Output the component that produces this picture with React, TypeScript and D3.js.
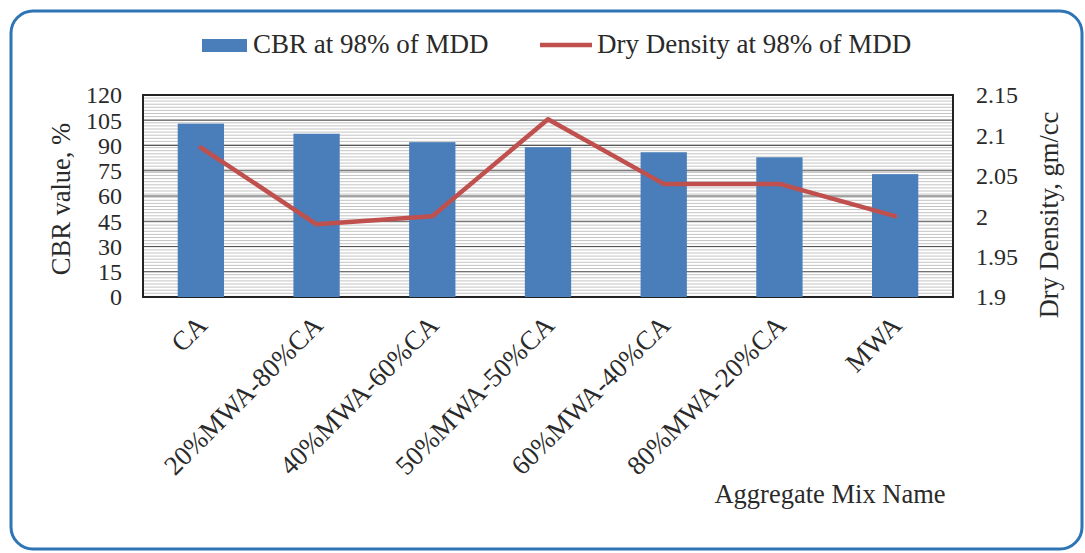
import React from "react";
import * as d3 from "d3";

const categories = ["CA", "20%MWA-80%CA", "40%MWA-60%CA", "50%MWA-50%CA", "60%MWA-40%CA", "80%MWA-20%CA", "MWA"];
const cbrValues = [103, 97, 92, 89, 86, 83, 73];
const dryDensity = [2.085, 1.99, 2.0, 2.12, 2.04, 2.04, 2.0];
const leftTicks = [0, 15, 30, 45, 60, 75, 90, 105, 120];
const rightTicks = [1.9, 1.95, 2, 2.05, 2.1, 2.15];

const W = 1085;
const H = 553;
const M = { left: 143, right: 953, top: 95, bottom: 297 };
const FONT = "'Liberation Serif', 'Times New Roman', serif";

export default function App() {
  const yL = d3.scaleLinear().domain([0, 120]).range([M.bottom, M.top]);
  const yR = d3.scaleLinear().domain([1.9, 2.15]).range([M.bottom, M.top]);
  const x = d3.scalePoint<string>().domain(categories).range([M.left, M.right]).padding(0.5);
  const band = x.step();
  const cx = (c: string) => x(c) as number;
  const barW = band / 2.5;

  const line = d3
    .line<number>()
    .x((_, i) => cx(categories[i]))
    .y((d) => yR(d));

  const hatch: number[] = d3.range(M.top + 3, M.bottom, 3.1);

  return (
    <svg width={W} height={H} style={{ position: "absolute", left: 0, top: 0, background: "#fff" }} fontFamily={FONT}>
      <rect x={11} y={11} width={1071} height={538} rx={22} ry={22} fill="#fff" stroke="#2E75B6" strokeWidth={3} />
      <rect x={M.left} y={M.top} width={M.right - M.left} height={M.bottom - M.top} fill="#fff" />
      {hatch.map((yy, i) => (
        <line key={"h" + i} x1={M.left} x2={M.right} y1={yy} y2={yy} stroke="#c4c4c4" strokeWidth={1} />
      ))}
      {leftTicks.map((t) => (
        <line key={"g" + t} x1={M.left} x2={M.right} y1={yL(t)} y2={yL(t)} stroke="#555" strokeWidth={1.2} />
      ))}
      <rect x={M.left} y={M.top} width={M.right - M.left} height={M.bottom - M.top} fill="none" stroke="#222" strokeWidth={2} />
      {categories.map((c, i) => (
        <rect key={"b" + c} x={cx(c) - barW / 2} y={yL(cbrValues[i])} width={barW} height={yL(0) - yL(cbrValues[i])} fill="#4A7EBB" />
      ))}
      <path d={line(dryDensity) || ""} fill="none" stroke="#C0504D" strokeWidth={4.5} strokeLinejoin="round" strokeLinecap="round" />
      {leftTicks.map((t) => (
        <text key={"lt" + t} x={122} y={yL(t)} dy="0.35em" textAnchor="end" fontSize={24} fill="#2a2a2a">
          {t}
        </text>
      ))}
      {rightTicks.map((t) => (
        <text key={"rt" + t} x={976} y={yR(t)} dy="0.35em" textAnchor="start" fontSize={24} fill="#2a2a2a">
          {t}
        </text>
      ))}
      {categories.map((c) => (
        <text key={"c" + c} transform={`translate(${cx(c) + 8},${M.bottom + 30}) rotate(-45)`} textAnchor="end" fontSize={27} fill="#2a2a2a">
          {c}
        </text>
      ))}
      <text transform={`translate(70,${(M.top + M.bottom) / 2 + 3}) rotate(-90)`} textAnchor="middle" fontSize={26.5} fill="#2a2a2a">
        CBR value, %
      </text>
      <text transform={`translate(1058,215) rotate(-90)`} textAnchor="middle" fontSize={26.5} fill="#2a2a2a">
        Dry Density, gm/cc
      </text>
      <text x={830} y={503} textAnchor="middle" fontSize={26.5} fill="#2a2a2a">
        Aggregate Mix Name
      </text>
      <rect x={202} y={39} width={45} height={13} fill="#4A7EBB" />
      <text x={253} y={53} fontSize={27} fill="#2a2a2a">
        CBR at 98% of MDD
      </text>
      <line x1={540} x2={592} y1={45} y2={45} stroke="#C0504D" strokeWidth={4.5} />
      <text x={597} y={53} fontSize={27} fill="#2a2a2a">
        Dry Density at 98% of MDD
      </text>
    </svg>
  );
}
